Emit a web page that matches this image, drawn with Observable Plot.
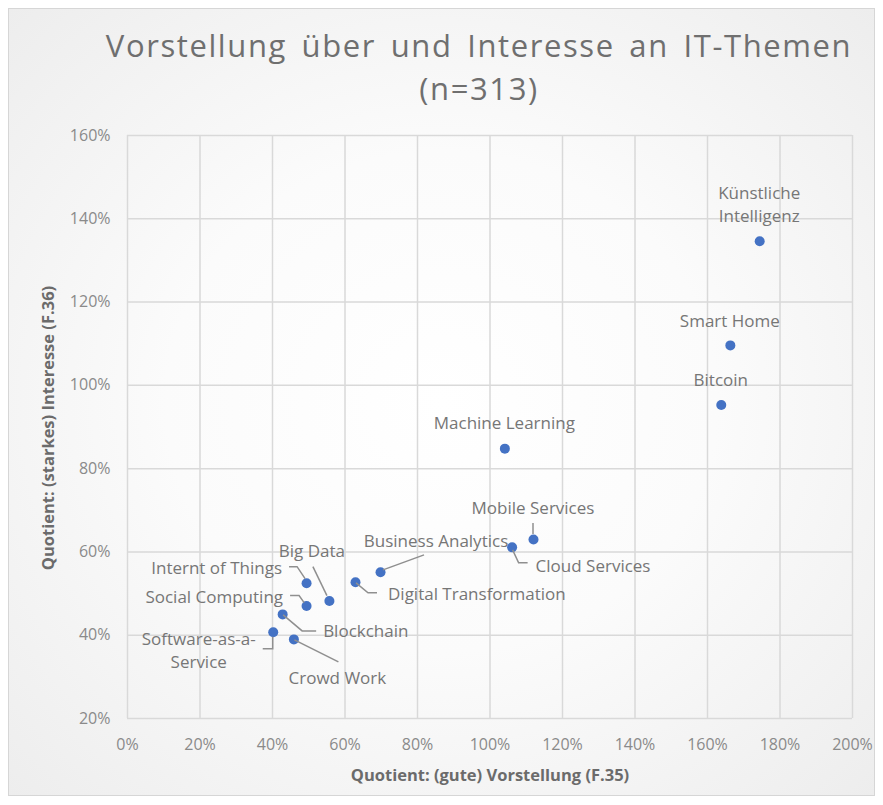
<!DOCTYPE html>
<html>
<head>
<meta charset="utf-8">
<script src="https://cdn.jsdelivr.net/npm/d3@7"></script>
<script src="https://cdn.jsdelivr.net/npm/@observablehq/plot@0.6"></script>
<style>
  html, body { margin: 0; padding: 0; background: #ffffff; }
  #chart {
    position: relative; width: 883px; height: 805px; overflow: hidden;
    font-family: "Open Sans", sans-serif;
  }
  #frame {
    position: absolute; left: 8px; top: 8px; width: 867px; height: 788px;
    border: 1px solid #d6d6d6; box-sizing: border-box;
    background: radial-gradient(ellipse at 50% 50%, #ffffff 0%, #fbfbfb 45%, #ededed 100%);
  }
  #title {
    position: absolute; left: 0; top: 24px; width: 958px; text-align: center;
    font-size: 31px; line-height: 43px; color: #6f6f6f; letter-spacing: 1.6px; word-spacing: 5px;
  }
  #plot { position: absolute; left: 0; top: 0; }
</style>
</head>
<body>
<div id="chart">
  <div id="frame"></div>
  <div id="title">Vorstellung über und Interesse an IT-Themen<br>(n=313)</div>
  <div id="plot"></div>
</div>
<script>
// Data: topic names, x = Quotient (gute) Vorstellung, y = Quotient (starkes) Interesse
const topics = ["Künstliche Intelligenz", "Smart Home", "Bitcoin", "Machine Learning", "Mobile Services",
  "Cloud Services", "Business Analytics", "Digital Transformation", "Internt of Things", "Big Data",
  "Social Computing", "Blockchain", "Software-as-a-Service", "Crowd Work"];
const vorstellung = [1.744, 1.663, 1.638, 1.041, 1.120, 1.061, 0.698, 0.629, 0.494, 0.557, 0.494, 0.428, 0.402, 0.459];
const interesse   = [1.346, 1.096, 0.953, 0.848, 0.630, 0.611, 0.551, 0.527, 0.525, 0.482, 0.470, 0.450, 0.407, 0.390];
const xTicks = [0, 0.2, 0.4, 0.6, 0.8, 1.0, 1.2, 1.4, 1.6, 1.8, 2.0];
const yTicks = [0.2, 0.4, 0.6, 0.8, 1.0, 1.2, 1.4, 1.6];
const labelLines = [["Künstliche", "Intelligenz"], ["Smart Home"], ["Bitcoin"], ["Machine Learning"], ["Mobile Services"],
  ["Cloud Services"], ["Business Analytics"], ["Digital Transformation"], ["Internt of Things"], ["Big Data"],
  ["Social Computing"], ["Blockchain"], ["Software-as-a-", "Service"], ["Crowd Work"]];

const data = topics.map((t, i) => ({topic: t, x: vorstellung[i], y: interesse[i], lines: labelLines[i]}));

// Label layout (pixel offsets relative to each point): text anchor point, anchor, leader polyline
const layout = {
  "Künstliche Intelligenz": {dx: 0, dy: -48, anchor: "middle", leader: null},
  "Smart Home": {dx: 0, dy: -24, anchor: "middle", leader: null},
  "Bitcoin": {dx: 0, dy: -24, anchor: "middle", leader: null},
  "Machine Learning": {dx: 0, dy: -25, anchor: "middle", leader: null},
  "Mobile Services": {dx: 0, dy: -31, anchor: "middle", leader: [[0, -16], [0, -5]]},
  "Cloud Services": {dx: 24, dy: 19, anchor: "start", leader: [[1, 3], [7, 16], [16, 16]]},
  "Business Analytics": {dx: 56, dy: -31, anchor: "middle", leader: [[3, -2], [44, -17]]},
  "Digital Transformation": {dx: 33, dy: 12, anchor: "start", leader: [[1, 1], [13, 11], [22, 11]]},
  "Internt of Things": {dx: -24, dy: -15, anchor: "end", leader: [[-17, -16], [-9, -16], [-1, -4]]},
  "Big Data": {dx: -17, dy: -50, anchor: "middle", leader: [[-16, -34], [-2, -5]]},
  "Social Computing": {dx: -23, dy: -9, anchor: "end", leader: [[-16, -10], [-7, -10], [-2, -3]]},
  "Blockchain": {dx: 41, dy: 17, anchor: "start", leader: [[1, 1], [20, 17], [34, 17]]},
  "Software-as-a-Service": {dx: -74, dy: 7, anchor: "middle", leader: [[-10, 17], [0, 17], [0, 5]]},
  "Crowd Work": {dx: 44, dy: 39, anchor: "middle", leader: [[1, 1], [45, 23]]}
};

function labelsMark(index, scales) {
  const g = d3.create("svg:g");
  for (const d of data) {
    const px = scales.x(d.x), py = scales.y(d.y);
    const L = layout[d.topic];
    if (L.leader) {
      g.append("polyline")
        .attr("points", L.leader.map(([a, b]) => `${px + a},${py + b}`).join(" "))
        .attr("fill", "none").attr("stroke", "#8f8f8f").attr("stroke-width", 1.5);
    }
    const t = g.append("text")
      .attr("text-anchor", L.anchor)
      .attr("font-family", "'Open Sans', sans-serif")
      .attr("font-size", 17)
      .attr("fill", "#767676");
    d.lines.forEach((line, k) => {
      t.append("tspan").attr("x", px + L.dx).attr("y", py + L.dy + k * 23)
        .attr("dy", "0.35em").text(line);
    });
  }
  return g.node();
}

const pct = d => Math.round(d * 100) + "%";

const plot = Plot.plot({
  width: 883,
  height: 805,
  marginTop: 135,
  marginBottom: 87,
  marginLeft: 127,
  marginRight: 31,
  style: {background: "transparent", fontFamily: "'Open Sans', sans-serif", fontSize: "16px", color: "#8a8a8a"},
  x: {domain: [0, 2.0], ticks: xTicks, tickFormat: pct, tickSize: 0, tickPadding: 20, label: null},
  y: {domain: [0.2, 1.6], ticks: yTicks, tickFormat: pct, tickSize: 0, tickPadding: 17, label: null},
  marks: [
    Plot.gridX(xTicks, {stroke: "#d9d9d9", strokeOpacity: 1, strokeWidth: 1.5}),
    Plot.gridY(yTicks, {stroke: "#d9d9d9", strokeOpacity: 1, strokeWidth: 1.5}),
    Plot.axisX(xTicks, {tickFormat: pct, tickSize: 0, tickPadding: 20, fill: "#8a8a8a", fontSize: 16, label: null}),
    Plot.axisY(yTicks, {tickFormat: pct, tickSize: 0, tickPadding: 17, fill: "#8a8a8a", fontSize: 16, label: null}),
    Plot.dot(data, {x: "x", y: "y", r: 5, fill: "#4472c4", stroke: "none"}),
    labelsMark
  ]
});

// Axis titles added as SVG text
const svg = d3.select(plot);
svg.append("text").attr("x", 490).attr("y", 775).attr("text-anchor", "middle")
  .attr("font-family", "'Open Sans', sans-serif").attr("font-weight", "bold").attr("font-size", 16.5)
  .attr("fill", "#6b6b6b").attr("dy", "0.35em").text("Quotient: (gute) Vorstellung (F.35)");
svg.append("text").attr("transform", "translate(48,428) rotate(-90)").attr("text-anchor", "middle")
  .attr("font-family", "'Open Sans', sans-serif").attr("font-weight", "bold").attr("font-size", 16.5)
  .attr("fill", "#6b6b6b").attr("dy", "0.35em").text("Quotient: (starkes) Interesse (F.36)");

document.getElementById("plot").appendChild(plot);
</script>
</body>
</html>
